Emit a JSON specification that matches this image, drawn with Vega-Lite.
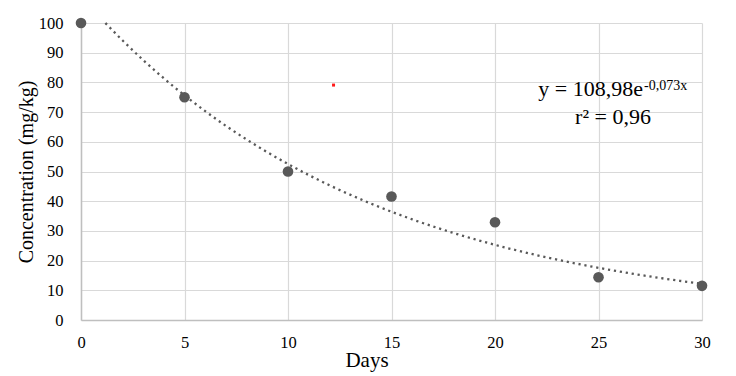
{
  "$schema": "https://vega.github.io/schema/vega-lite/v6.json",
  "autosize": "none",
  "width": 621,
  "height": 297,
  "padding": {"left": 81, "top": 23, "right": 34, "bottom": 56},
  "background": "white",
  "config": {"view": {"stroke": null}},
  "datasets": {
    "measured": [
      {"x": 0, "y": 100}, {"x": 5, "y": 75}, {"x": 10, "y": 50}, {"x": 15, "y": 41.6},
      {"x": 20, "y": 32.9}, {"x": 25, "y": 14.4}, {"x": 30, "y": 11.5}
    ],
    "trend": [
      {"x": 1.18, "y": 99.99}, {"x": 2, "y": 94.18}, {"x": 4, "y": 81.38}, {"x": 6, "y": 70.33},
      {"x": 8, "y": 60.77}, {"x": 10, "y": 52.52}, {"x": 12, "y": 45.38}, {"x": 14, "y": 39.22},
      {"x": 16, "y": 33.89}, {"x": 18, "y": 29.29}, {"x": 20, "y": 25.31}, {"x": 22, "y": 21.87},
      {"x": 24, "y": 18.9}, {"x": 26, "y": 16.33}, {"x": 28, "y": 14.11}, {"x": 30, "y": 12.2}
    ],
    "marker": [{"x": 12.2, "y": 79.1}],
    "eq": [{"x": 27.15, "y": 75.3, "label": "y = 108,98e"}],
    "sup": [{"x": 27.2, "y": 77.5, "label": "-0,073x"}],
    "r2": [{"x": 25.7, "y": 66.1, "label": "r² = 0,96"}]
  },
  "encoding": {
    "x": {
      "field": "x", "type": "quantitative",
      "scale": {"domain": [0, 30], "nice": false, "zero": false},
      "axis": {
        "title": "Days", "values": [0, 5, 10, 15, 20, 25, 30],
        "titleFont": "Liberation Serif", "titleFontSize": 21, "titleFontWeight": "normal", "titleColor": "black",
        "titleX": 285.5, "titleY": 46.7, "titleBaseline": "alphabetic",
        "labelFont": "Liberation Serif", "labelFontSize": 16.5, "labelColor": "black", "labelPadding": 14,
        "labelFlush": false, "ticks": false,
        "domainColor": "#bfbfbf", "domainWidth": 1.5,
        "grid": true, "gridColor": "#d9d9d9", "gridWidth": 1.2
      }
    },
    "y": {
      "field": "y", "type": "quantitative",
      "scale": {"domain": [0, 100], "nice": false},
      "axis": {
        "title": "Concentration (mg/kg)", "values": [0, 10, 20, 30, 40, 50, 60, 70, 80, 90, 100],
        "titleFont": "Liberation Serif", "titleFontSize": 20, "titleFontWeight": "normal", "titleColor": "black",
        "titlePadding": 2,
        "labelFont": "Liberation Serif", "labelFontSize": 16.5, "labelColor": "black", "labelPadding": 18,
        "labelFlush": false, "ticks": false,
        "domainColor": "#bfbfbf", "domainWidth": 1.5,
        "grid": true, "gridColor": "#d9d9d9", "gridWidth": 1.2
      }
    }
  },
  "layer": [
    {
      "data": {"name": "trend"},
      "mark": {"type": "line", "color": "#595959", "strokeWidth": 2.3, "strokeDash": [2.2, 3.8], "interpolate": "monotone"}
    },
    {
      "data": {"name": "measured"},
      "mark": {"type": "point", "filled": true, "shape": "circle", "size": 113, "color": "#595959", "opacity": 1, "clip": false}
    },
    {
      "data": {"name": "marker"},
      "mark": {"type": "point", "filled": true, "shape": "square", "size": 9, "color": "#ff1a1a", "opacity": 1}
    },
    {
      "data": {"name": "eq"},
      "mark": {"type": "text", "align": "right", "baseline": "alphabetic", "font": "Liberation Serif", "fontSize": 22, "color": "black"},
      "encoding": {"text": {"field": "label"}}
    },
    {
      "data": {"name": "sup"},
      "mark": {"type": "text", "align": "left", "baseline": "alphabetic", "font": "Liberation Serif", "fontSize": 14, "color": "black"},
      "encoding": {"text": {"field": "label"}}
    },
    {
      "data": {"name": "r2"},
      "mark": {"type": "text", "align": "center", "baseline": "alphabetic", "font": "Liberation Serif", "fontSize": 22, "color": "black"},
      "encoding": {"text": {"field": "label"}}
    }
  ]
}
